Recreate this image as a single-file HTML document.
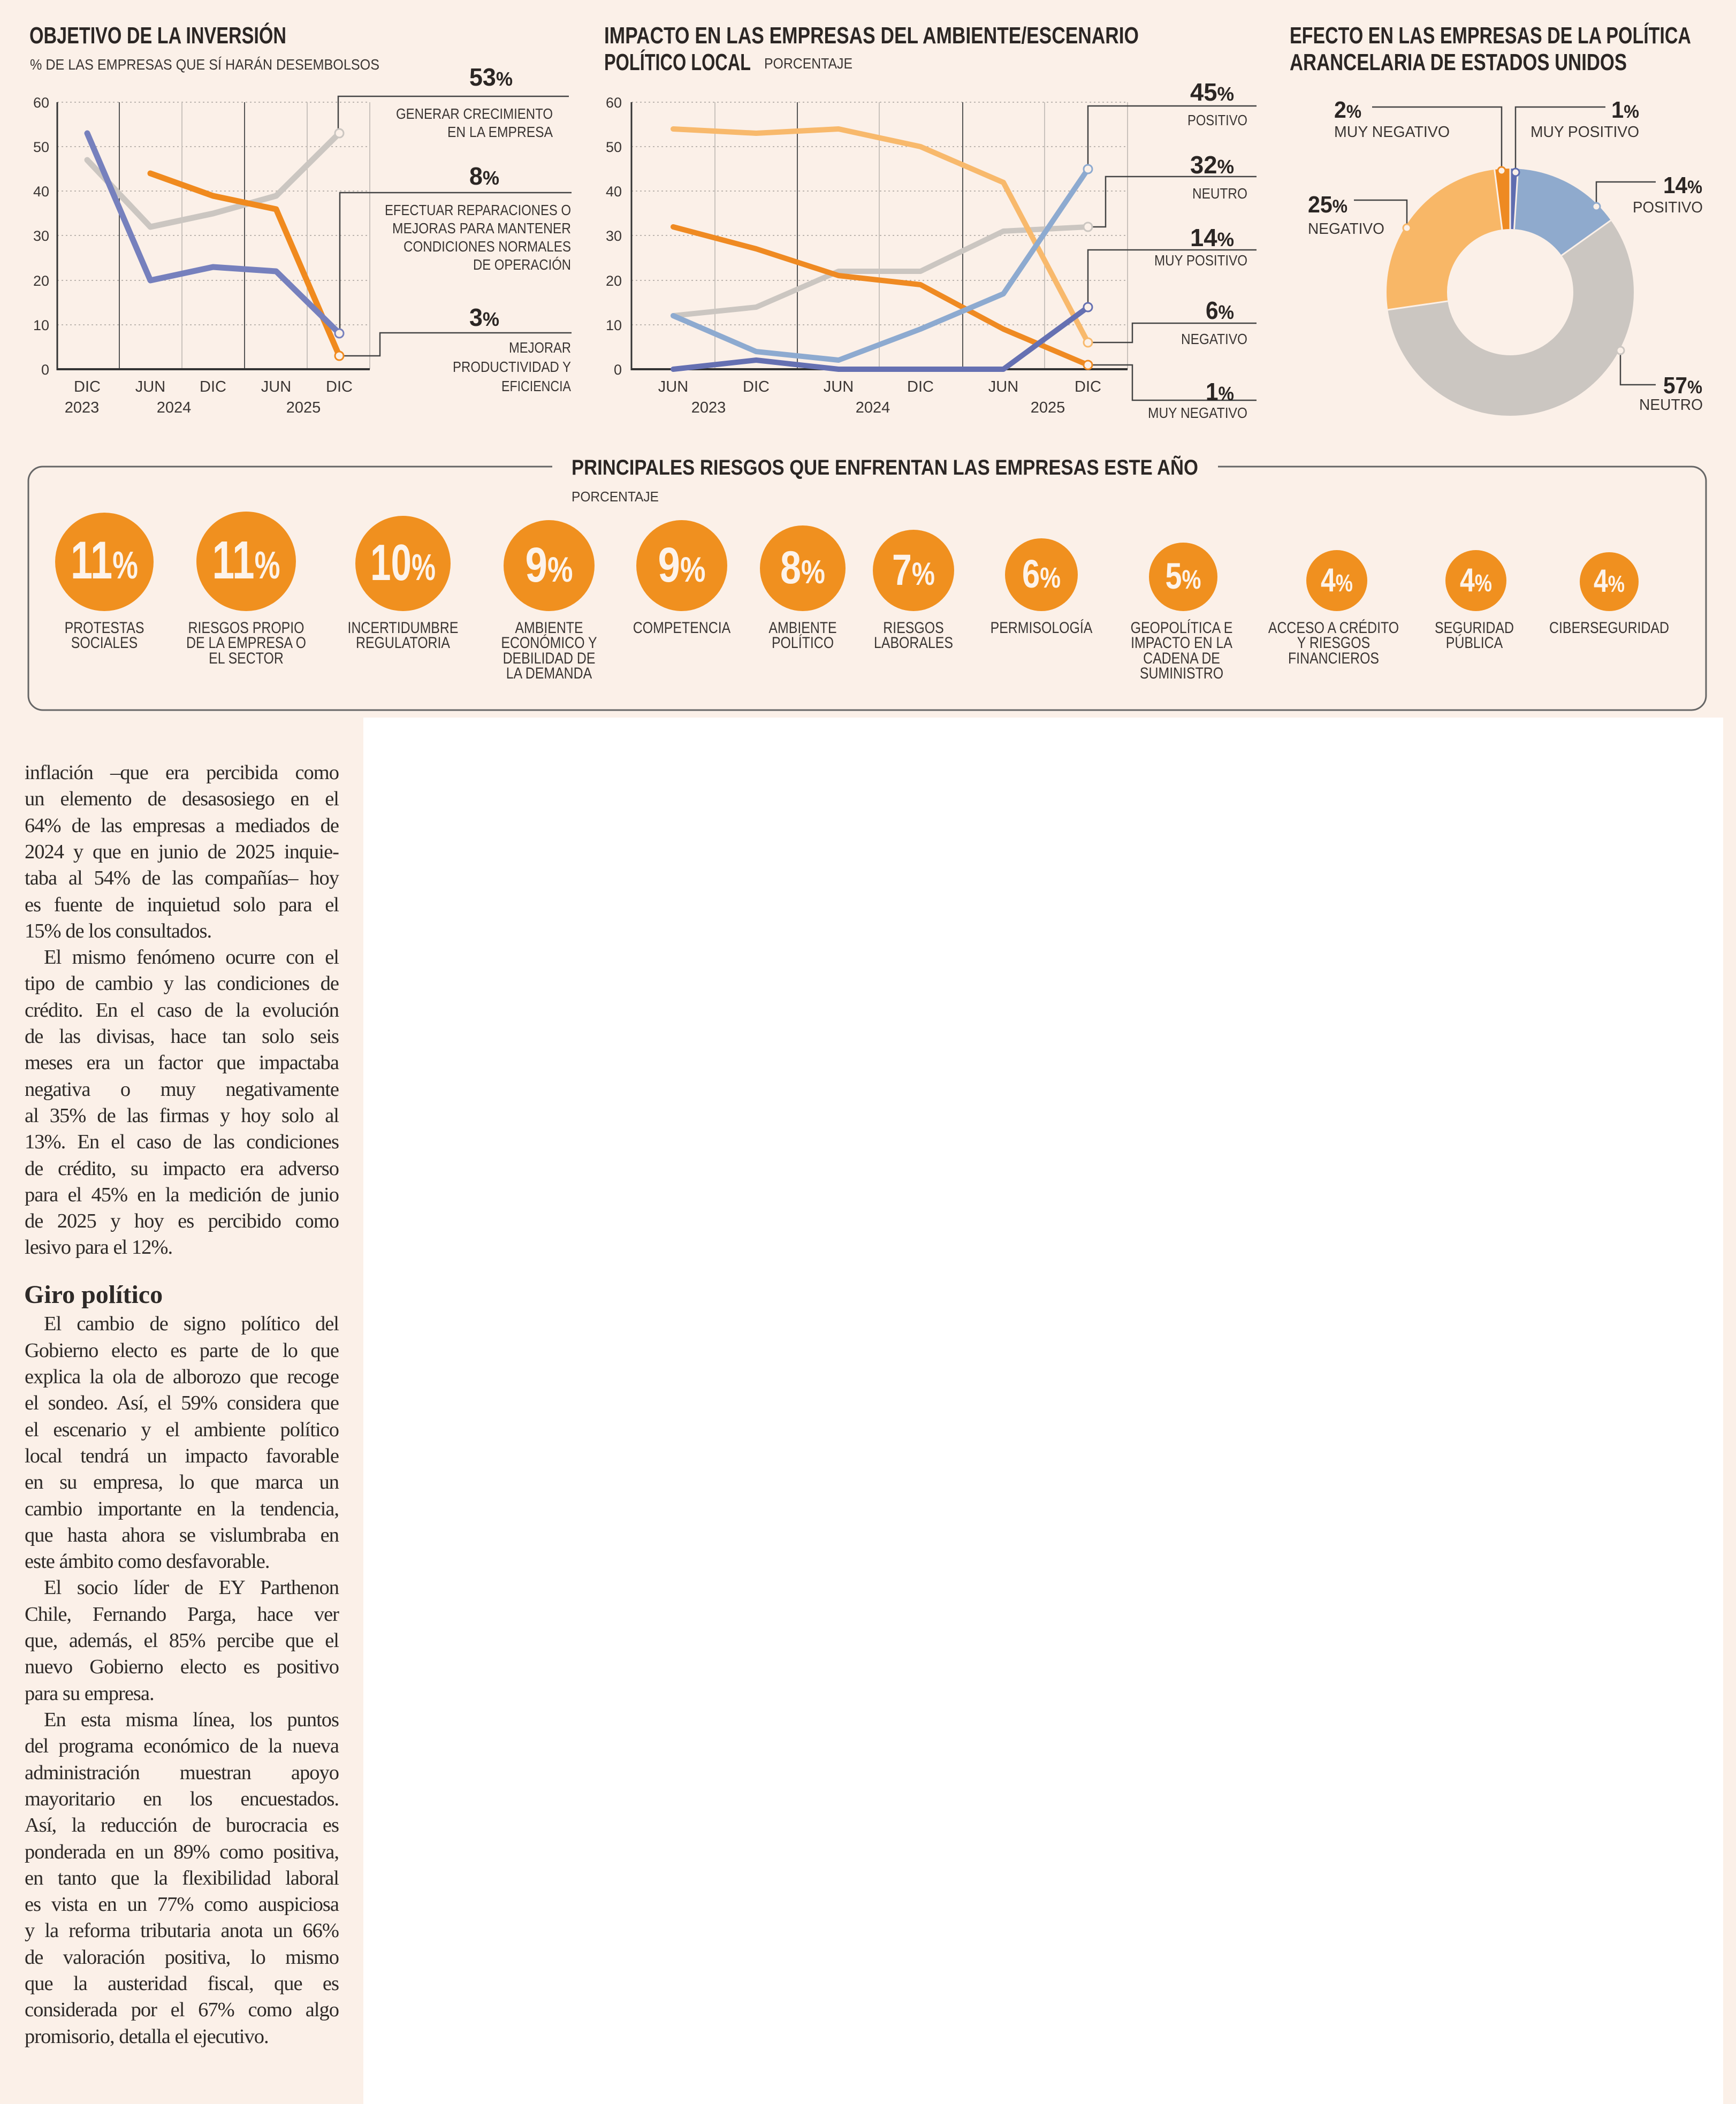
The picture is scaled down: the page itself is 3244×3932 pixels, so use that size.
<!DOCTYPE html>
<html><head><meta charset="utf-8">
<style>
html,body{margin:0;padding:0}
body{width:3244px;height:3932px;background:#FBF0E8;position:relative;overflow:hidden;font-family:"Liberation Sans",sans-serif}
svg{position:absolute;left:0;top:0}
.t{font-family:"Liberation Sans",sans-serif;fill:#3a3533}
.b{font-weight:bold;fill:#2b2624}
.wb{position:absolute;left:679px;top:1341px;width:2541px;height:2591px;background:#fff}
.ln{position:absolute;left:46px;width:587px;height:49.3px;line-height:49.3px;font-family:"Liberation Serif",serif;font-size:38.5px;letter-spacing:-1px;color:#2e2a28;text-align:justify;text-align-last:justify;white-space:nowrap}
.ln.l{text-align-last:left}
.ln.i{text-indent:36px}
.h{position:absolute;left:45px;top:2392px;font-family:"Liberation Serif",serif;font-weight:bold;font-size:48px;color:#2e2a28}
</style></head><body>
<div class="wb"></div>
<svg width="3244" height="1340" viewBox="0 0 3244 1340">
<!-- CHART 1 -->
<text class="t b" x="55" y="81" font-size="44" textLength="480" lengthAdjust="spacingAndGlyphs">OBJETIVO DE LA INVERSIÓN</text>
<text class="t" x="56" y="130" font-size="28" textLength="653" lengthAdjust="spacingAndGlyphs">% DE LAS EMPRESAS QUE SÍ HARÁN DESEMBOLSOS</text>
<g stroke="#bdb6b0" stroke-width="2" stroke-dasharray="3 5">
<line x1="107" y1="191" x2="691" y2="191"/><line x1="107" y1="274" x2="691" y2="274"/><line x1="107" y1="357" x2="691" y2="357"/><line x1="107" y1="440" x2="691" y2="440"/><line x1="107" y1="524" x2="691" y2="524"/><line x1="107" y1="607" x2="691" y2="607"/>
</g>
<g stroke-width="2"><line x1="223" y1="191" x2="223" y2="690" stroke="#555"/><line x1="457" y1="191" x2="457" y2="690" stroke="#555"/><line x1="340" y1="191" x2="340" y2="690" stroke="#c9c2bc"/><line x1="574" y1="191" x2="574" y2="690" stroke="#c9c2bc"/><line x1="691" y1="191" x2="691" y2="690" stroke="#c9c2bc"/></g>
<line x1="107" y1="191" x2="107" y2="692" stroke="#333" stroke-width="3"/>
<line x1="107" y1="690" x2="691" y2="690" stroke="#333" stroke-width="4"/>
<g class="t" font-size="27" text-anchor="end"><text x="92" y="201">60</text><text x="92" y="284">50</text><text x="92" y="367">40</text><text x="92" y="450">30</text><text x="92" y="534">20</text><text x="92" y="617">10</text><text x="92" y="700">0</text></g>
<g class="t" font-size="29" text-anchor="middle"><text x="163" y="732">DIC</text><text x="281" y="732">JUN</text><text x="398" y="732">DIC</text><text x="516" y="732">JUN</text><text x="634" y="732">DIC</text><text x="153" y="771">2023</text><text x="325" y="771">2024</text><text x="567" y="771">2025</text></g>
<g fill="none" stroke-width="11" stroke-linejoin="round" stroke-linecap="round">
<polyline stroke="#CBC6C1" points="163,299 281,424 398,399 516,366 634,249"/>
<polyline stroke="#F08A1E" points="281,324 398,366 516,391 634,665"/>
<polyline stroke="#7680BD" points="163,249 281,524 398,499 516,507 634,623"/>
</g>
<g fill="none" stroke="#444" stroke-width="2.5"><path d="M1063 180H632V241"/><path d="M1068 360H635V615"/><path d="M1068 622H710V665H642"/></g>
<g fill="#FBF0E8" stroke-width="3"><circle cx="634" cy="249" r="8" stroke="#CBC6C1"/><circle cx="634" cy="623" r="8" stroke="#7680BD"/><circle cx="634" cy="665" r="8" stroke="#F08A1E"/></g>
<text class="t b" x="877" y="160" font-size="46" textLength="81" lengthAdjust="spacingAndGlyphs">53<tspan font-size="36">%</tspan></text>
<text class="t b" x="877" y="345" font-size="46" textLength="56" lengthAdjust="spacingAndGlyphs">8<tspan font-size="36">%</tspan></text>
<text class="t b" x="877" y="609" font-size="46" textLength="56" lengthAdjust="spacingAndGlyphs">3<tspan font-size="36">%</tspan></text>
<g class="t" font-size="28" text-anchor="end">
<text x="1033" y="222" textLength="293" lengthAdjust="spacingAndGlyphs">GENERAR CRECIMIENTO</text>
<text x="1033" y="256" textLength="197" lengthAdjust="spacingAndGlyphs">EN LA EMPRESA</text>
<text x="1067" y="402" textLength="348" lengthAdjust="spacingAndGlyphs">EFECTUAR REPARACIONES O</text>
<text x="1067" y="436" textLength="334" lengthAdjust="spacingAndGlyphs">MEJORAS PARA MANTENER</text>
<text x="1067" y="470" textLength="313" lengthAdjust="spacingAndGlyphs">CONDICIONES NORMALES</text>
<text x="1067" y="504" textLength="183" lengthAdjust="spacingAndGlyphs">DE OPERACIÓN</text>
<text x="1067" y="659" textLength="116" lengthAdjust="spacingAndGlyphs">MEJORAR</text>
<text x="1067" y="695" textLength="221" lengthAdjust="spacingAndGlyphs">PRODUCTIVIDAD Y</text>
<text x="1067" y="731" textLength="130" lengthAdjust="spacingAndGlyphs">EFICIENCIA</text>
</g>

<!-- CHART 2 -->
<text class="t b" x="1129" y="81" font-size="44" textLength="999" lengthAdjust="spacingAndGlyphs">IMPACTO EN LAS EMPRESAS DEL AMBIENTE/ESCENARIO</text>
<text class="t b" x="1129" y="131" font-size="44" textLength="274" lengthAdjust="spacingAndGlyphs">POLÍTICO LOCAL</text>
<text class="t" x="1428" y="128" font-size="28" textLength="165" lengthAdjust="spacingAndGlyphs">PORCENTAJE</text>
<g stroke="#bdb6b0" stroke-width="2" stroke-dasharray="3 5">
<line x1="1180" y1="191" x2="2107" y2="191"/><line x1="1180" y1="274" x2="2107" y2="274"/><line x1="1180" y1="357" x2="2107" y2="357"/><line x1="1180" y1="440" x2="2107" y2="440"/><line x1="1180" y1="524" x2="2107" y2="524"/><line x1="1180" y1="607" x2="2107" y2="607"/>
</g>
<g stroke-width="2"><line x1="1490" y1="191" x2="1490" y2="690" stroke="#555"/><line x1="1799" y1="191" x2="1799" y2="690" stroke="#555"/><line x1="1336" y1="191" x2="1336" y2="690" stroke="#c9c2bc"/><line x1="1643" y1="191" x2="1643" y2="690" stroke="#c9c2bc"/><line x1="1952" y1="191" x2="1952" y2="690" stroke="#c9c2bc"/><line x1="2107" y1="191" x2="2107" y2="690" stroke="#c9c2bc"/></g>
<line x1="1180" y1="191" x2="1180" y2="692" stroke="#333" stroke-width="3"/>
<line x1="1180" y1="690" x2="2107" y2="690" stroke="#333" stroke-width="4"/>
<g class="t" font-size="27" text-anchor="end"><text x="1162" y="201">60</text><text x="1162" y="284">50</text><text x="1162" y="367">40</text><text x="1162" y="450">30</text><text x="1162" y="534">20</text><text x="1162" y="617">10</text><text x="1162" y="700">0</text></g>
<g class="t" font-size="29" text-anchor="middle"><text x="1258" y="732">JUN</text><text x="1413" y="732">DIC</text><text x="1567" y="732">JUN</text><text x="1720" y="732">DIC</text><text x="1875" y="732">JUN</text><text x="2033" y="732">DIC</text><text x="1324" y="771">2023</text><text x="1631" y="771">2024</text><text x="1958" y="771">2025</text></g>
<g fill="none" stroke-width="10" stroke-linejoin="round" stroke-linecap="round">
<polyline stroke="#CBC6C1" points="1258,590 1413,574 1567,507 1720,507 1875,432 2033,424"/>
<polyline stroke="#F8B96C" points="1258,241 1413,249 1567,241 1720,274 1875,341 2033,640"/>
<polyline stroke="#EF8A22" points="1258,424 1413,465 1567,515 1720,532 1875,615 2033,682"/>
<polyline stroke="#8DAAD0" points="1258,590 1413,657 1567,673 1720,615 1875,549 2033,316"/>
<polyline stroke="#6570B2" points="1258,690 1413,673 1567,690 1720,690 1875,690 2033,574"/>
</g>
<g fill="none" stroke="#444" stroke-width="2.5"><path d="M2348 198H2033V308"/><path d="M2348 330H2066V424H2041"/><path d="M2348 467H2033V566"/><path d="M2348 604H2116V640H2041"/><path d="M2348 748H2116V682H2041"/></g>
<g fill="#FBF0E8" stroke-width="3"><circle cx="2033" cy="316" r="8" stroke="#8DAAD0"/><circle cx="2033" cy="424" r="8" stroke="#CBC6C1"/><circle cx="2033" cy="574" r="8" stroke="#6570B2"/><circle cx="2033" cy="640" r="8" stroke="#F8B96C"/><circle cx="2033" cy="682" r="8" stroke="#EF8A22"/></g>
<g class="t b" font-size="46" text-anchor="end">
<text x="2306" y="188" textLength="82" lengthAdjust="spacingAndGlyphs">45<tspan font-size="36">%</tspan></text>
<text x="2306" y="324" textLength="82" lengthAdjust="spacingAndGlyphs">32<tspan font-size="36">%</tspan></text>
<text x="2306" y="460" textLength="82" lengthAdjust="spacingAndGlyphs">14<tspan font-size="36">%</tspan></text>
<text x="2306" y="596" textLength="53" lengthAdjust="spacingAndGlyphs">6<tspan font-size="36">%</tspan></text>
<text x="2306" y="748" textLength="53" lengthAdjust="spacingAndGlyphs">1<tspan font-size="36">%</tspan></text>
</g>
<g class="t" font-size="28" text-anchor="end">
<text x="2331" y="234" textLength="112" lengthAdjust="spacingAndGlyphs">POSITIVO</text>
<text x="2331" y="371" textLength="103" lengthAdjust="spacingAndGlyphs">NEUTRO</text>
<text x="2331" y="496" textLength="174" lengthAdjust="spacingAndGlyphs">MUY POSITIVO</text>
<text x="2331" y="643" textLength="124" lengthAdjust="spacingAndGlyphs">NEGATIVO</text>
<text x="2331" y="781" textLength="186" lengthAdjust="spacingAndGlyphs">MUY NEGATIVO</text>
</g>

<!-- CHART 3 -->
<text class="t b" x="2410" y="81" font-size="44" textLength="750" lengthAdjust="spacingAndGlyphs">EFECTO EN LAS EMPRESAS DE LA POLÍTICA</text>
<text class="t b" x="2410" y="131" font-size="44" textLength="630" lengthAdjust="spacingAndGlyphs">ARANCELARIA DE ESTADOS UNIDOS</text>
<g fill="none" stroke-width="113" transform="rotate(-90 2822 546)">
<circle cx="2822" cy="546" r="174.5" stroke="#5F6DB0" stroke-dasharray="11.07 2000" stroke-dashoffset="0"/>
<circle cx="2822" cy="546" r="174.5" stroke="#8FAACD" stroke-dasharray="155.05 2000" stroke-dashoffset="-11.07"/>
<circle cx="2822" cy="546" r="174.5" stroke="#CBC6C1" stroke-dasharray="631.27 2000" stroke-dashoffset="-166.12"/>
<circle cx="2822" cy="546" r="174.5" stroke="#F8B767" stroke-dasharray="276.87 2000" stroke-dashoffset="-797.39"/>
<circle cx="2822" cy="546" r="174.5" stroke="#EE8A22" stroke-dasharray="22.15 2000" stroke-dashoffset="-1074.26"/>
</g>
<g stroke="#FBF0E8" stroke-width="3"><line x1="2822" y1="428" x2="2822" y2="315"/><line x1="2829.5" y1="428.2" x2="2836.7" y2="315.5"/><line x1="2918" y1="477.4" x2="3010" y2="411.8"/><line x1="2705.2" y1="562.8" x2="2593.3" y2="579"/><line x1="2807" y1="429" x2="2792.7" y2="316.8"/></g>
<g fill="none" stroke="#444" stroke-width="2.5"><path d="M2564 200H2806V312"/><path d="M3000 200H2832V315"/><path d="M3094 340H2983V379"/><path d="M2530 374H2629V419"/><path d="M3028 662V719H3094"/></g>
<g fill="#FBF0E8" stroke-width="3"><circle cx="2806" cy="319" r="7" stroke="#EE8A22"/><circle cx="2832" cy="322" r="7" stroke="#5F6DB0"/><circle cx="2983" cy="386" r="7" stroke="#8FAACD"/><circle cx="2629" cy="426" r="7" stroke="#F8B767"/><circle cx="3028" cy="655" r="7" stroke="#CBC6C1"/></g>
<g class="t b" font-size="44">
<text x="2493" y="220" textLength="51" lengthAdjust="spacingAndGlyphs">2<tspan font-size="34">%</tspan></text>
<text x="3011" y="220" textLength="52" lengthAdjust="spacingAndGlyphs">1<tspan font-size="34">%</tspan></text>
<text x="3108" y="361" textLength="73" lengthAdjust="spacingAndGlyphs">14<tspan font-size="34">%</tspan></text>
<text x="2444" y="397" textLength="74" lengthAdjust="spacingAndGlyphs">25<tspan font-size="34">%</tspan></text>
<text x="3108" y="735" textLength="73" lengthAdjust="spacingAndGlyphs">57<tspan font-size="34">%</tspan></text>
</g>
<g class="t" font-size="29">
<text x="2493" y="256" textLength="216" lengthAdjust="spacingAndGlyphs">MUY NEGATIVO</text>
<text x="2860" y="256" textLength="203" lengthAdjust="spacingAndGlyphs">MUY POSITIVO</text>
<text x="3051" y="397" textLength="131" lengthAdjust="spacingAndGlyphs">POSITIVO</text>
<text x="2444" y="437" textLength="143" lengthAdjust="spacingAndGlyphs">NEGATIVO</text>
<text x="3063" y="766" textLength="119" lengthAdjust="spacingAndGlyphs">NEUTRO</text>
</g>

<!-- RISKS -->
<path d="M1032 872H80A27 27 0 0 0 53 899V1300A27 27 0 0 0 80 1327H3161A27 27 0 0 0 3188 1300V899A27 27 0 0 0 3161 872H2276" fill="none" stroke="#666" stroke-width="3"/>
<text class="t b" x="1068" y="887" font-size="40" textLength="1171" lengthAdjust="spacingAndGlyphs">PRINCIPALES RIESGOS QUE ENFRENTAN LAS EMPRESAS ESTE AÑO</text>
<text class="t" x="1068" y="937" font-size="26" textLength="163" lengthAdjust="spacingAndGlyphs">PORCENTAJE</text>
<g fill="#F0901F">
<circle cx="195" cy="1050" r="92"/><circle cx="460" cy="1049" r="93"/><circle cx="753" cy="1053" r="89"/><circle cx="1026" cy="1057" r="85"/><circle cx="1274" cy="1057" r="85"/><circle cx="1500" cy="1062" r="80"/><circle cx="1707" cy="1066" r="76"/><circle cx="1946" cy="1074" r="68"/><circle cx="2211" cy="1078" r="64"/><circle cx="2498" cy="1085" r="57"/><circle cx="2758" cy="1085" r="57"/><circle cx="3007" cy="1087" r="55"/>
</g>
<g class="t b" style="fill:#FDF3EA" text-anchor="middle">
<text x="195" y="1081" font-size="99" textLength="126" lengthAdjust="spacingAndGlyphs">11<tspan font-size="72">%</tspan></text>
<text x="460" y="1081" font-size="100" textLength="127" lengthAdjust="spacingAndGlyphs">11<tspan font-size="72">%</tspan></text>
<text x="753" y="1084" font-size="96" textLength="122" lengthAdjust="spacingAndGlyphs">10<tspan font-size="70">%</tspan></text>
<text x="1026" y="1087" font-size="92" textLength="89" lengthAdjust="spacingAndGlyphs">9<tspan font-size="66">%</tspan></text>
<text x="1274" y="1087" font-size="92" textLength="89" lengthAdjust="spacingAndGlyphs">9<tspan font-size="66">%</tspan></text>
<text x="1500" y="1090" font-size="86" textLength="84" lengthAdjust="spacingAndGlyphs">8<tspan font-size="62">%</tspan></text>
<text x="1707" y="1093" font-size="82" textLength="80" lengthAdjust="spacingAndGlyphs">7<tspan font-size="60">%</tspan></text>
<text x="1946" y="1098" font-size="74" textLength="72" lengthAdjust="spacingAndGlyphs">6<tspan font-size="54">%</tspan></text>
<text x="2211" y="1100" font-size="69" textLength="67" lengthAdjust="spacingAndGlyphs">5<tspan font-size="50">%</tspan></text>
<text x="2498" y="1105" font-size="62" textLength="60" lengthAdjust="spacingAndGlyphs">4<tspan font-size="45">%</tspan></text>
<text x="2758" y="1105" font-size="62" textLength="60" lengthAdjust="spacingAndGlyphs">4<tspan font-size="45">%</tspan></text>
<text x="3007" y="1106" font-size="60" textLength="58" lengthAdjust="spacingAndGlyphs">4<tspan font-size="44">%</tspan></text>
</g>
<g class="t" font-size="30" text-anchor="middle">
<g transform="translate(195 0) scale(.83 1)"><text x="0" y="1183">PROTESTAS</text><text x="0" y="1211">SOCIALES</text></g>
<g transform="translate(460 0) scale(.83 1)"><text x="0" y="1183">RIESGOS PROPIO</text><text x="0" y="1211">DE LA EMPRESA O</text><text x="0" y="1240">EL SECTOR</text></g>
<g transform="translate(753 0) scale(.83 1)"><text x="0" y="1183">INCERTIDUMBRE</text><text x="0" y="1211">REGULATORIA</text></g>
<g transform="translate(1026 0) scale(.83 1)"><text x="0" y="1183">AMBIENTE</text><text x="0" y="1211">ECONÓMICO Y</text><text x="0" y="1240">DEBILIDAD DE</text><text x="0" y="1268">LA DEMANDA</text></g>
<g transform="translate(1274 0) scale(.83 1)"><text x="0" y="1183">COMPETENCIA</text></g>
<g transform="translate(1500 0) scale(.83 1)"><text x="0" y="1183">AMBIENTE</text><text x="0" y="1211">POLÍTICO</text></g>
<g transform="translate(1707 0) scale(.83 1)"><text x="0" y="1183">RIESGOS</text><text x="0" y="1211">LABORALES</text></g>
<g transform="translate(1946 0) scale(.83 1)"><text x="0" y="1183">PERMISOLOGÍA</text></g>
<g transform="translate(2208 0) scale(.83 1)"><text x="0" y="1183">GEOPOLÍTICA E</text><text x="0" y="1211">IMPACTO EN LA</text><text x="0" y="1240">CADENA DE</text><text x="0" y="1268">SUMINISTRO</text></g>
<g transform="translate(2492 0) scale(.83 1)"><text x="0" y="1183">ACCESO A CRÉDITO</text><text x="0" y="1211">Y RIESGOS</text><text x="0" y="1240">FINANCIEROS</text></g>
<g transform="translate(2755 0) scale(.83 1)"><text x="0" y="1183">SEGURIDAD</text><text x="0" y="1211">PÚBLICA</text></g>
<g transform="translate(3007 0) scale(.83 1)"><text x="0" y="1183">CIBERSEGURIDAD</text></g>
</g>
</svg>

<div class="ln" style="top:1420px">inflación –que era percibida como</div>
<div class="ln" style="top:1469px">un elemento de desasosiego en el</div>
<div class="ln" style="top:1519px">64% de las empresas a mediados de</div>
<div class="ln" style="top:1568px">2024 y que en junio de 2025 inquie-</div>
<div class="ln" style="top:1617px">taba al 54% de las compañías– hoy</div>
<div class="ln" style="top:1667px">es fuente de inquietud solo para el</div>
<div class="ln l" style="top:1716px">15% de los consultados.</div>
<div class="ln i" style="top:1765px">El mismo fenómeno ocurre con el</div>
<div class="ln" style="top:1814px">tipo de cambio y las condiciones de</div>
<div class="ln" style="top:1864px">crédito. En el caso de la evolución</div>
<div class="ln" style="top:1913px">de las divisas, hace tan solo seis</div>
<div class="ln" style="top:1962px">meses era un factor que impactaba</div>
<div class="ln" style="top:2012px">negativa o muy negativamente</div>
<div class="ln" style="top:2061px">al 35% de las firmas y hoy solo al</div>
<div class="ln" style="top:2110px">13%. En el caso de las condiciones</div>
<div class="ln" style="top:2160px">de crédito, su impacto era adverso</div>
<div class="ln" style="top:2209px">para el 45% en la medición de junio</div>
<div class="ln" style="top:2258px">de 2025 y hoy es percibido como</div>
<div class="ln l" style="top:2307px">lesivo para el 12%.</div>
<div class="h">Giro político</div>
<div class="ln i" style="top:2450px">El cambio de signo político del</div>
<div class="ln" style="top:2500px">Gobierno electo es parte de lo que</div>
<div class="ln" style="top:2549px">explica la ola de alborozo que recoge</div>
<div class="ln" style="top:2598px">el sondeo. Así, el 59% considera que</div>
<div class="ln" style="top:2648px">el escenario y el ambiente político</div>
<div class="ln" style="top:2697px">local tendrá un impacto favorable</div>
<div class="ln" style="top:2746px">en su empresa, lo que marca un</div>
<div class="ln" style="top:2796px">cambio importante en la tendencia,</div>
<div class="ln" style="top:2845px">que hasta ahora se vislumbraba en</div>
<div class="ln l" style="top:2894px">este ámbito como desfavorable.</div>
<div class="ln i" style="top:2943px">El socio líder de EY Parthenon</div>
<div class="ln" style="top:2993px">Chile, Fernando Parga, hace ver</div>
<div class="ln" style="top:3042px">que, además, el 85% percibe que el</div>
<div class="ln" style="top:3091px">nuevo Gobierno electo es positivo</div>
<div class="ln l" style="top:3141px">para su empresa.</div>
<div class="ln i" style="top:3190px">En esta misma línea, los puntos</div>
<div class="ln" style="top:3239px">del programa económico de la nueva</div>
<div class="ln" style="top:3289px">administración muestran apoyo</div>
<div class="ln" style="top:3338px">mayoritario en los encuestados.</div>
<div class="ln" style="top:3387px">Así, la reducción de burocracia es</div>
<div class="ln" style="top:3437px">ponderada en un 89% como positiva,</div>
<div class="ln" style="top:3486px">en tanto que la flexibilidad laboral</div>
<div class="ln" style="top:3535px">es vista en un 77% como auspiciosa</div>
<div class="ln" style="top:3584px">y la reforma tributaria anota un 66%</div>
<div class="ln" style="top:3634px">de valoración positiva, lo mismo</div>
<div class="ln" style="top:3683px">que la austeridad fiscal, que es</div>
<div class="ln" style="top:3732px">considerada por el 67% como algo</div>
<div class="ln l" style="top:3782px">promisorio, detalla el ejecutivo.</div>
</body></html>
